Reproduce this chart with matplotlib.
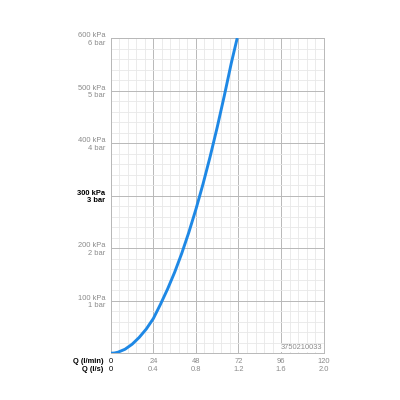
import matplotlib
matplotlib.use("Agg")
from matplotlib import pyplot as plt
from matplotlib.pyplot import MultipleLocator
import matplotlib.transforms as mtransforms

plt.rcParams['font.family'] = ['Liberation Sans', 'DejaVu Sans']

# flow (l/min) vs pressure (kPa)
flow = [0, 2, 4, 8, 12, 16, 20, 24, 28, 32, 36, 40, 44, 48, 52, 56, 60, 64, 68, 71.3]
pressure = [0, 0.3, 1.8, 7.5, 17, 30, 46, 66, 93, 122, 154, 190, 230, 274, 322, 374, 430, 490, 553, 600]

q_lmin = [0, 24, 48, 72, 96, 120]
q_ls = ['0', '0.4', '0.8', '1.2', '1.6', '2.0']
p_ticks = [100, 200, 300, 400, 500, 600]
p_labels = ['100 kPa\n1 bar', '200 kPa\n2 bar', '300 kPa\n3 bar',
            '400 kPa\n4 bar', '500 kPa\n5 bar', '600 kPa\n6 bar']

grey_txt = '#8a8a8a'
fs = 5.4

fig = plt.figure(figsize=(4, 4), dpi=100)
ax = fig.add_axes([0.277, 0.117, 0.532, 0.788])

ax.plot(flow, pressure, color='#1e88e5', lw=2.1, solid_capstyle='butt', zorder=3)

ax.set_xlim(0, 120)
ax.set_ylim(0, 600)
ax.xaxis.set_major_locator(MultipleLocator(24))
ax.xaxis.set_minor_locator(MultipleLocator(4.8))
ax.yaxis.set_major_locator(MultipleLocator(100))
ax.yaxis.set_minor_locator(MultipleLocator(20))
ax.grid(which='major', color='#b8b8b8', lw=0.7)
ax.grid(which='minor', color='#e8e8e8', lw=0.6)
ax.set_axisbelow(True)
for s in ax.spines.values():
    s.set_color('#b8b8b8')
    s.set_linewidth(0.7)

ax.tick_params(which='both', length=0)
ax.set_xticklabels([])
ax.set_yticks(p_ticks)
ax.set_yticklabels(p_labels, fontsize=fs, color=grey_txt, linespacing=1.15)
ax.tick_params(axis='y', pad=4)
for lab in ax.get_yticklabels():
    lab.set_horizontalalignment('right')
    if lab.get_text().startswith('300'):
        lab.set_color('black')
        lab.set_fontweight('bold')

# two rows of flow labels under the axis
trans = mtransforms.blended_transform_factory(ax.transData, ax.transAxes)
row1 = -0.026
row2 = -0.053
for i, (a, b) in enumerate(zip(q_lmin, q_ls)):
    c = 'black' if i == 0 else grey_txt
    ax.text(a, row1, str(a), transform=trans, ha='center', va='center', fontsize=fs, color=c)
    ax.text(a, row2, b, transform=trans, ha='center', va='center', fontsize=fs, color=c)
ax.text(-0.035, row1, 'Q (l/min)', transform=ax.transAxes, ha='right', va='center',
        fontsize=fs, fontweight='bold')
ax.text(-0.035, row2, 'Q (l/s)', transform=ax.transAxes, ha='right', va='center',
        fontsize=fs, fontweight='bold')

ax.text(0.992, 0.017, '3750210033', transform=ax.transAxes, ha='right', va='center',
        fontsize=fs, color=grey_txt,
        bbox=dict(facecolor='white', edgecolor='none', pad=0.6))

fig.savefig('out.png', dpi=100)
